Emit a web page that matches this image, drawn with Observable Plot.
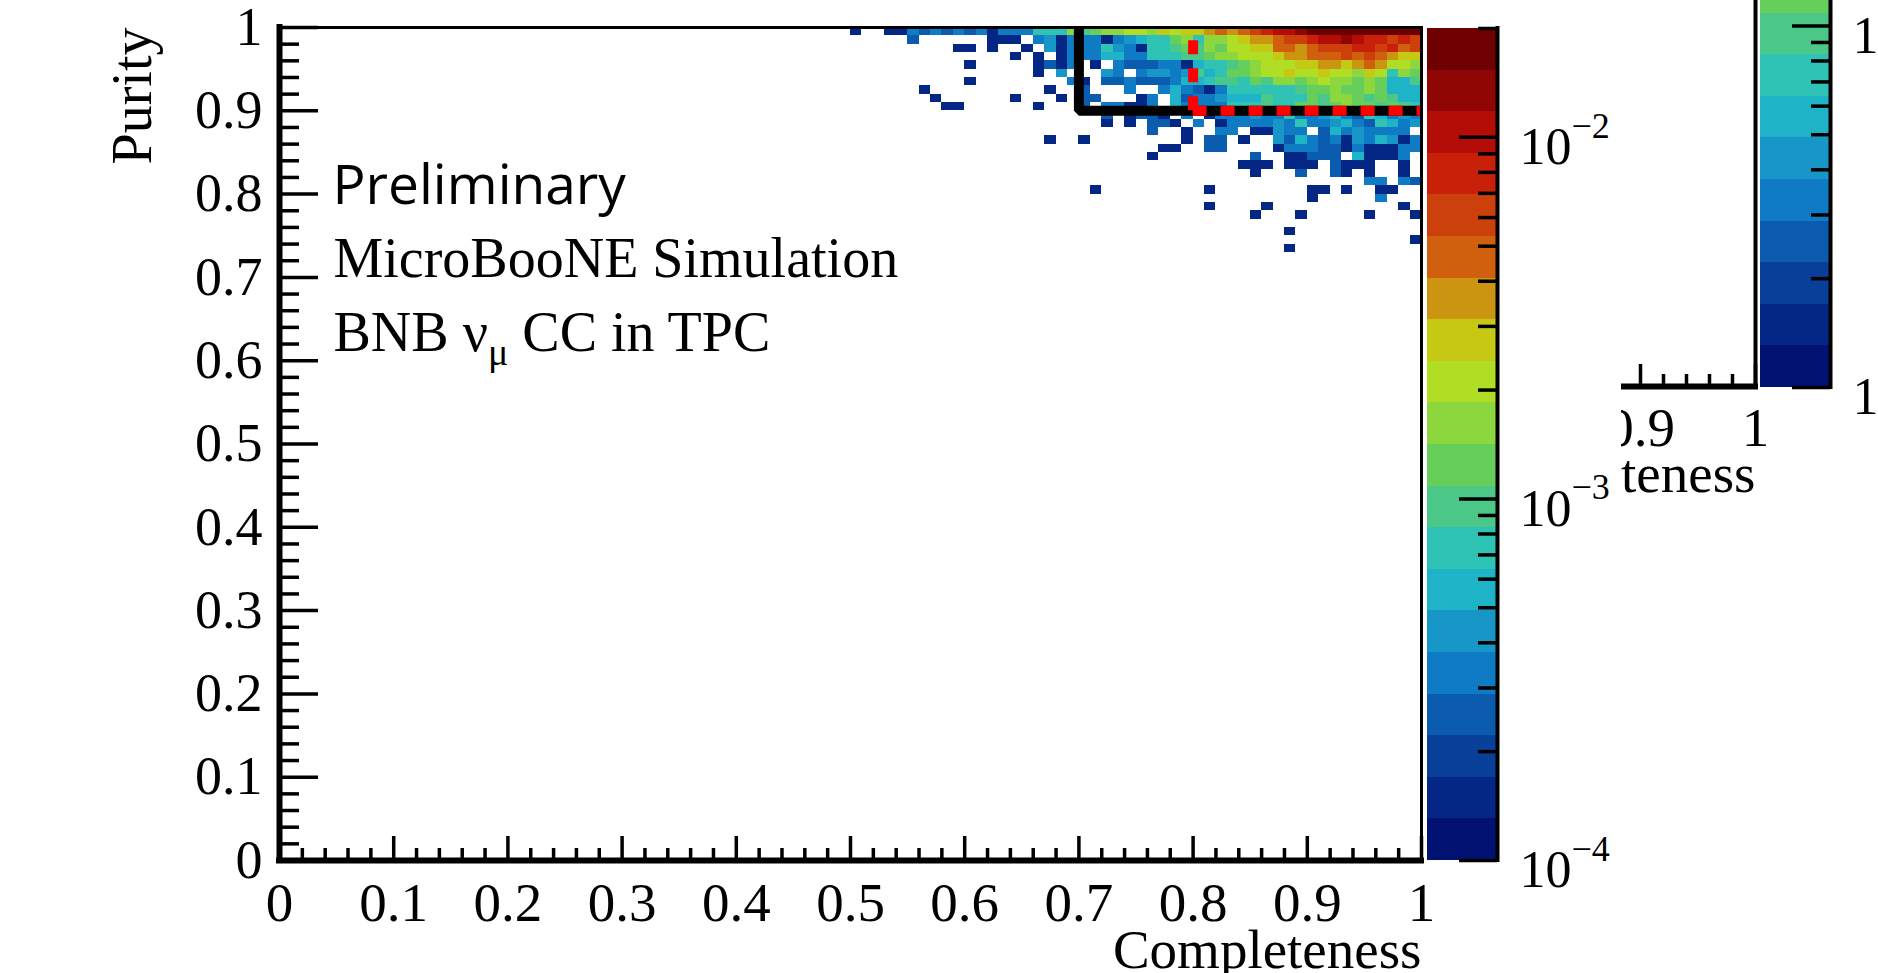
<!DOCTYPE html>
<html>
<head>
<meta charset="utf-8">
<script src="https://cdn.jsdelivr.net/npm/d3@7"></script>
<script src="https://cdn.jsdelivr.net/npm/@observablehq/plot@0.6"></script>
<style>
html, body { margin: 0; padding: 0; background: #fff; }
#page { position: relative; width: 1878px; height: 973px; overflow: hidden; background: #fff; }
#page svg { position: absolute; left: 0; top: 0; max-width: none; }
#frag { position: absolute; left: 1621px; top: 0; width: 257px; height: 520px; overflow: hidden; }
#frag svg { left: -121px; }
</style>
</head>
<body>
<div id="page"><div id="frag"></div></div>
<script>
const SERIF = '"Liberation Serif", "Times New Roman", Times, serif';
const SANS = '"Open Sans", "Noto Sans", sans-serif';

// ---------------- data ----------------
const xTickValues = [0, 0.1, 0.2, 0.3, 0.4, 0.5, 0.6, 0.7, 0.8, 0.9, 1];
const xTickLabels = ["0", "0.1", "0.2", "0.3", "0.4", "0.5", "0.6", "0.7", "0.8", "0.9", "1"];
const yTickValues = [0, 0.1, 0.2, 0.3, 0.4, 0.5, 0.6, 0.7, 0.8, 0.9, 1];
const yTickLabels = ["0", "0.1", "0.2", "0.3", "0.4", "0.5", "0.6", "0.7", "0.8", "0.9", "1"];
const zTickValues = [1e-4, 1e-3, 1e-2];
const zTickExponents = ["\u22124", "\u22123", "\u22122"];
const zRange = [1e-4, 0.02];
const nContours = 20;

const completenessCutLoose = 0.7;
const completenessCutTight = 0.8;
const purityCut = 0.9;

// 2D histogram: bins of 0.01; each string covers completeness bins 0.50 ... 0.99
// characters = colour level read from the palette (0..9, a..j = 10..19), "." = empty
const firstCompletenessBin = 0.50;
const binWidth = 0.01;
const purityBinLow = [0.99, 0.98, 0.97, 0.96, 0.95, 0.94, 0.93, 0.92, 0.91, 0.90,
  0.89, 0.88, 0.87, 0.86, 0.85, 0.84, 0.83, 0.82, 0.81, 0.80, 0.79, 0.78, 0.77, 0.76, 0.75, 0.74, 0.73];
const colourLevel = [
  "1..1143434341444777a89aab" + "bacbccdedefghhijjjjjjjjjj",
  ".....3......111.451444145" + "6779a7aabcddeffghhihggfgf",
  ".........11.1..1.51444754" + "177898a9bbcceedefffggfgef",
  "..............1.1.1444664" + "4777889aabbbcddeeefefedcc",
  "..........1.....1314.1.43" + "3344167789abbbccddcdedbba",
  "................1.5...54." + "4554586799abbcbbcbbacb7a9",
  "..........1........41.334" + "333466788798aa9abaa9a9668",
  "......1..........1..3...4" + "..464314777777899a99a9666",
  ".......1......1...1.33..." + "14.63445666877798aa989866",
  "........11......1...3.441" + "14.644447778779989a998987",
  "......................3.1" + "331.4.1444544744564376454",
  "......................1.1" + ".331.4.144445474456437645",
  "........................." + ".3..1..44.11544.36454444.",
  ".................1..1...." + "....1.33.1..5364341546514",
  "........................." + "..11..33....1444331411144",
  "........................." + ".1........3..11333.61114.",
  "........................." + ".........111.111.3111..1.",
  "........................." + "..........1...3..31.1..1.",
  "........................." + "....................44.43",
  ".....................1..." + "......1........11.1..11..",
  "........................." + "...............1.....4...",
  "........................." + "......1....1...........1.",
  "........................." + "..........1...1.....1...1",
  "........................." + ".........................",
  "........................." + ".............1...........",
  "........................." + "........................1",
  "........................." + ".............1..........."
];

// ROOT kRainBow palette stops
const paletteStops = ["#000063", "#05308e", "#0f7cc6", "#23c0c9", "#66ce5a", "#c4e216", "#d0610d", "#c71008", "#6e0002"];

// ---------------- derived ----------------
const gradient = d3.piecewise(d3.interpolateRgb, paletteStops);
const bandColors = d3.range(nContours).map(i => gradient(Math.floor((i + 0.99) * 255 / nContours) / 254));
const lz0 = Math.log10(zRange[0]), lz1 = Math.log10(zRange[1]);
const edges = d3.range(nContours + 1).map(i => Math.pow(10, lz0 + i * (lz1 - lz0) / nContours));
const bands = d3.range(nContours).map(i => ({lo: edges[i], hi: edges[i + 1], mid: Math.sqrt(edges[i] * edges[i + 1])}));
const colorOpts = {type: "threshold", domain: edges.slice(1, nContours), range: bandColors};

const cells = [];
purityBinLow.forEach((p, r) => {
  const row = colourLevel[r];
  for (let c = 0; c < row.length; c++) {
    if (row[c] === ".") continue;
    const k = parseInt(row[c], 20);
    cells.push({x: +(firstCompletenessBin + c * binWidth).toFixed(2), y: p, z: bands[k].mid});
  }
});

const boxCorners = [
  {c: completenessCutLoose, p: 1},
  {c: completenessCutLoose, p: purityCut},
  {c: 1, p: purityCut}
];

const minorX = d3.range(0, 51).map(i => i / 50).filter(v => Math.abs(v * 10 - Math.round(v * 10)) > 1e-6);
const minorY = minorX;
const zMinor = [];
for (let e = -4; e <= -2; e++) for (let m = 2; m <= 9; m++) { const v = m * Math.pow(10, e); if (v <= zRange[1] * 1.0001) zMinor.push(v); }

// ---------------- layout ----------------
const W = 1878, H = 973;
const L = 279, R = 1421, T = 27, B = 860;
const plotW = R - L, plotH = B - T;
const page = document.getElementById("page");
const txt = {lineAnchor: "middle", fill: "black"};

const main = Plot.plot({
  width: W, height: H,
  marginLeft: L, marginRight: W - R, marginTop: T, marginBottom: H - B,
  x: {domain: [0, 1], axis: null},
  y: {domain: [0, 1], axis: null},
  color: colorOpts,
  style: {background: "transparent"},
  marks: [
    Plot.rect(cells, {x1: "x", x2: d => d.x + binWidth, y1: "y", y2: d => d.y + binWidth, fill: "z", shapeRendering: "crispEdges"}),
    Plot.line(boxCorners, {x: "c", y: "p", stroke: "black", strokeWidth: 10, strokeLinejoin: "miter", strokeLinecap: "butt"}),
    Plot.ruleX([completenessCutTight], {y1: purityCut, y2: 1, stroke: "#ff0000", strokeWidth: 10, strokeDasharray: "14,14"}),
    Plot.ruleY([purityCut], {x1: completenessCutTight, x2: 1, stroke: "#ff0000", strokeWidth: 10, strokeDasharray: "14,14"}),
    Plot.frame({stroke: "black", strokeWidth: 3}),
    Plot.ruleX([0], {stroke: "black", strokeWidth: 6, strokeLinecap: "square"}),
    Plot.ruleY([0], {stroke: "black", strokeWidth: 6, strokeLinecap: "square"}),
    Plot.tickY(yTickValues, {y: d => d, stroke: "black", strokeWidth: 3.5, insetRight: plotW - 39}),
    Plot.tickY(minorY, {y: d => d, stroke: "black", strokeWidth: 3.5, insetRight: plotW - 20}),
    Plot.tickX(xTickValues, {x: d => d, stroke: "black", strokeWidth: 3.5, insetTop: plotH - 24}),
    Plot.tickX(minorX, {x: d => d, stroke: "black", strokeWidth: 3.5, insetTop: plotH - 12}),
    Plot.text(yTickValues, {...txt, y: d => d, frameAnchor: "left", text: yTickLabels, textAnchor: "end", dx: -17, fontSize: 54, fontFamily: SERIF}),
    Plot.text(xTickValues, {...txt, x: d => d, frameAnchor: "bottom", text: xTickLabels, dy: 43, fontSize: 55, fontFamily: SERIF}),
    Plot.text(["Completeness"], {...txt, frameAnchor: "bottom-right", text: d => d, textAnchor: "end", dy: 90, fontSize: 55, fontFamily: SERIF}),
    Plot.text(["Purity"], {...txt, frameAnchor: "top-left", text: d => d, rotate: -90, textAnchor: "end", dx: -146, fontSize: 56, fontFamily: SERIF}),
    Plot.text(["Preliminary"], {...txt, frameAnchor: "top-left", text: d => d, textAnchor: "start", dx: 53, dy: 159, fontSize: 55, fontFamily: SANS}),
    Plot.text(["MicroBooNE Simulation"], {...txt, frameAnchor: "top-left", text: d => d, textAnchor: "start", dx: 54, dy: 232, fontSize: 56, fontFamily: SERIF}),
    Plot.text(["BNB \u03bd\u03bc CC in TPC"], {...txt, frameAnchor: "top-left", text: d => d, textAnchor: "start", dx: 54, dy: 306, fontSize: 56, fontFamily: SERIF})
  ]
});

// subscript mu
for (const t of main.querySelectorAll("text")) {
  if (t.textContent === "BNB \u03bd\u03bc CC in TPC") {
    t.textContent = "";
    const ns = "http://www.w3.org/2000/svg";
    const a = document.createElementNS(ns, "tspan"); a.textContent = "BNB \u03bd"; t.appendChild(a);
    const b = document.createElementNS(ns, "tspan"); b.textContent = "\u03bc"; b.setAttribute("font-size", "38"); b.setAttribute("dy", "14"); t.appendChild(b);
    const c = document.createElementNS(ns, "tspan"); c.textContent = " CC in TPC"; c.setAttribute("dy", "-14"); t.appendChild(c);
  }
}

function colorbar({left, right, bottom, labelSize = 52}) {
  const cbW = right - left;
  return Plot.plot({
    width: W, height: H,
    marginLeft: left, marginRight: W - right, marginTop: Math.max(0, bottom - 832), marginBottom: H - bottom,
    x: {domain: [0, 1], axis: null},
    y: {type: "log", domain: zRange, range: [bottom, bottom - 832], axis: null},
    color: colorOpts,
    style: {background: "transparent"},
    marks: [
      Plot.rect(bands, {x1: 0, x2: 1, y1: "lo", y2: "hi", fill: "mid", shapeRendering: "crispEdges"}),
      Plot.ruleX([1], {stroke: "black", strokeWidth: 4, strokeLinecap: "square"}),
      Plot.tickY(zTickValues, {y: d => d, stroke: "black", strokeWidth: 3.5, insetLeft: cbW - 38}),
      Plot.tickY(zMinor, {y: d => d, stroke: "black", strokeWidth: 3.5, insetLeft: cbW - 19}),
      Plot.text(zTickValues, {...txt, x: 1, y: d => d, text: d => "10", textAnchor: "start", dx: 22, dy: 10, fontSize: labelSize, fontFamily: SERIF}),
      Plot.text(zTickValues, {...txt, x: 1, y: d => d, text: zTickExponents, textAnchor: "start", dx: 22 + labelSize, dy: -11, fontSize: 36, fontFamily: SERIF})
    ]
  });
}

// fragment of a second, partly hidden chart on the right
const fragW = 378, fragH = 520, fragAxisY = 386;
const fragTicks = [0.8, 0.9, 1];
const fragTickLabels = ["0.8", "0.9", "1"];
const fragMinor = d3.range(40, 51).map(i => i / 50).filter(v => Math.abs(v * 10 - Math.round(v * 10)) > 1e-6);
const frag = Plot.plot({
  width: fragW, height: fragH,
  marginLeft: 25, marginRight: 123, marginTop: 0, marginBottom: fragH - fragAxisY,
  x: {domain: [0.8, 1], axis: null},
  y: {domain: [0, 1], axis: null},
  style: {background: "transparent"},
  marks: [
    Plot.ruleX([1], {stroke: "black", strokeWidth: 4}),
    Plot.ruleY([0], {stroke: "black", strokeWidth: 6, strokeLinecap: "square"}),
    Plot.tickX(fragTicks, {x: d => d, stroke: "black", strokeWidth: 3.5, insetTop: fragAxisY - 22}),
    Plot.tickX(fragMinor, {x: d => d, stroke: "black", strokeWidth: 3.5, insetTop: fragAxisY - 12}),
    Plot.text(fragTicks, {...txt, x: d => d, frameAnchor: "bottom", text: fragTickLabels, dy: 42, fontSize: 55, fontFamily: SERIF}),
    Plot.text(["Completeness"], {...txt, frameAnchor: "bottom-right", text: d => d, textAnchor: "end", dy: 88, fontSize: 55, fontFamily: SERIF})
  ]
});

document.getElementById("frag").appendChild(frag);
page.appendChild(colorbar({left: 1760, right: 1830, bottom: 387}));
page.appendChild(main);
page.appendChild(colorbar({left: 1427, right: 1497, bottom: 860}));
</script>
</body>
</html>
